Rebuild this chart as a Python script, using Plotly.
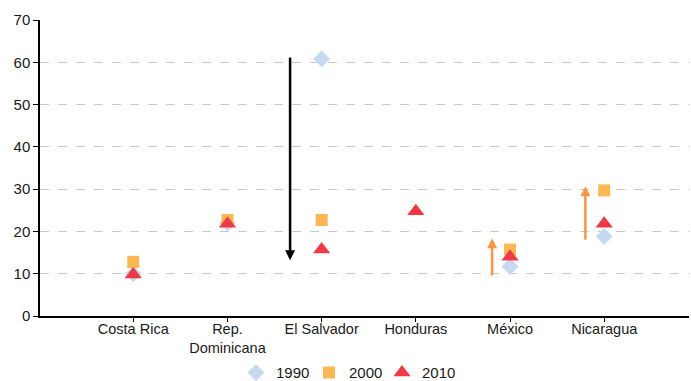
import plotly.graph_objects as go

countries = ["Costa Rica", "Rep.<br>Dominicana", "El Salvador", "Honduras", "México", "Nicaragua"]
v1990 = [10.0, 22.0, 60.8, None, 11.7, 18.8]
v2000 = [12.8, 22.7, 22.7, None, 15.7, 29.7]
v2010 = [9.8, 21.8, 15.7, 24.8, 14.0, 21.8]

# arrows: (country index offset, start value, end value, colour)
arrow_pos = [1.665, 3.81, 4.80]
arrow_from = [61.5, 9.2, 17.7]
arrow_to = [13.2, 18.4, 30.7]
arrow_col = ["#000000", "#F79646", "#F79646"]

xs = list(range(len(countries)))
fig = go.Figure()
fig.add_trace(go.Scatter(x=xs, y=v1990, mode="markers", name="1990",
                         marker=dict(symbol="diamond", size=13, color="#C6D9F1")))
fig.add_trace(go.Scatter(x=xs, y=v2000, mode="markers", name="2000",
                         marker=dict(symbol="square", size=12, color="#FBB852")))
fig.add_trace(go.Scatter(x=xs, y=v2010, mode="markers", name="2010",
                         marker=dict(symbol="triangle-up", size=15, color="#EE3A47")))

for xp, y0, y1, c in zip(arrow_pos, arrow_from, arrow_to, arrow_col):
    fig.add_annotation(x=xp, y=y1, ax=xp, ay=y0, xref="x", yref="y", axref="x", ayref="y",
                       showarrow=True, arrowhead=2, arrowsize=0.8, arrowwidth=2.5,
                       arrowcolor=c, text="", standoff=0, startstandoff=0)

font = dict(family="Liberation Sans, Arial, sans-serif", size=15, color="#1a1a1a")
fig.update_layout(
    width=691, height=381,
    margin=dict(l=40, r=2, t=20, b=65, autoexpand=False),
    paper_bgcolor="white", plot_bgcolor="white",
    font=font,
    showlegend=True,
    legend=dict(orientation="h", xref="container", x=0.5, xanchor="center",
                yref="paper", y=-0.192, yanchor="middle", font=dict(size=15),
                itemwidth=30, entrywidth=28, tracegroupgap=0,
                bgcolor="rgba(0,0,0,0)"),
    xaxis=dict(range=[-0.99, 5.9], tickvals=xs, ticktext=countries, automargin=False,
               showgrid=False, zeroline=False, showline=True, linecolor="#000000", linewidth=1.5,
               ticks="outside", ticklen=4, tickcolor="#000000", tickfont=dict(size=14.5),
               ticklabelstandoff=-5),
    yaxis=dict(range=[0, 70], dtick=10, showgrid=True, gridcolor="#C8C8C8", griddash="dash",
               gridwidth=1, zeroline=False, showline=True, linecolor="#000000", linewidth=1.5,
               automargin=False,
               ticks="outside", ticklen=5, tickcolor="#000000", tickfont=dict(size=15)),
)
fig.write_html("out.html", config={"displayModeBar": False},
               post_script="document.body.style.margin='0px';")
